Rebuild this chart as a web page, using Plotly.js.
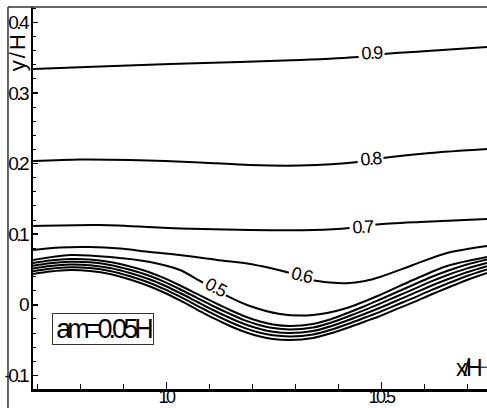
<!DOCTYPE html>
<html>
<head>
<meta charset="utf-8">
<script src="https://cdn.plot.ly/plotly-3.0.1.min.js"></script>
<style>
html,body{margin:0;padding:0;background:#fff;}
#chart{width:487px;height:408px;}
#chart .xtick text, #chart .ytick text { letter-spacing: -2.5px; }
#chart g.annotation text { letter-spacing: -1.6px; }
#chart g.annotation[data-index="5"] text { letter-spacing: -4px; }
#chart g.annotation[data-index="6"] text { letter-spacing: 2px; }
#chart g.annotation[data-index="7"] text { letter-spacing: -4px; }
</style>
</head>
<body>
<div id="chart"></div>
<script>
// Contour levels (u/U) and their lines (x/H, y/H)
const levels = ["0.9", "0.8", "0.7", "0.6", "0.5", "0.4", "0.3", "0.2", "0.1", "0"];

const x09 = [9.691, 9.8465, 10.0093, 10.1721, 10.3116, 10.4465, 10.5047, 10.5907, 10.7465];
const y09 = [0.3340, 0.3375, 0.3411, 0.3439, 0.3467, 0.3510, 0.3552, 0.3588, 0.3652];

const x08 = [9.691, 9.8, 9.9163, 10.0791, 10.1953, 10.3116, 10.4465, 10.5047, 10.614, 10.7465];
const y08 = [0.2037, 0.2058, 0.2051, 0.2016, 0.1980, 0.1973, 0.2023, 0.2079, 0.2150, 0.2207];

const x07 = [9.691, 9.8465, 10.0326, 10.1953, 10.3419, 10.4279, 10.4907, 10.5907, 10.7465];
const y07 = [0.1116, 0.1130, 0.1081, 0.1059, 0.1059, 0.1088, 0.1137, 0.1173, 0.1215];

const x06 = [9.691, 9.7535, 9.8233, 9.893, 9.9628, 10.0326, 10.1186, 10.1884, 10.2419, 10.2884, 10.3395, 10.3814, 10.4209, 10.4628, 10.4977, 10.5744, 10.6535, 10.7465];
const y06 = [0.0776, 0.0812, 0.0819, 0.0797, 0.0748, 0.0705, 0.0635, 0.0585, 0.0521, 0.0450, 0.0351, 0.0316, 0.0305, 0.0337, 0.0394, 0.0564, 0.0734, 0.0833];

const x05 = [9.691, 9.7767, 9.8698, 9.9628, 10.0326, 10.0791, 10.1419, 10.1884, 10.2651, 10.3419, 10.4209, 10.4977, 10.5744, 10.6535, 10.7465];
const y05 = [0.0635, 0.0705, 0.0677, 0.0606, 0.0493, 0.0337, 0.0125, -0.0003, -0.0130, -0.0144, -0.0045, 0.0139, 0.0351, 0.0550, 0.0677];

// near-wall lines share the same x stations
const xWall = [9.6907, 9.7302, 9.7767, 9.8233, 9.8698, 9.9163, 9.9628, 9.9977, 10.0326, 10.0721, 10.1093, 10.1488, 10.1837, 10.2186,
               10.2488, 10.2884, 10.3419, 10.3814, 10.4279, 10.4628, 10.4977, 10.5372, 10.5744, 10.614, 10.6535, 10.7, 10.7465];
const y04 = [0.0592, 0.0627, 0.0649, 0.0642, 0.0606, 0.0542, 0.0458, 0.0373, 0.0273, 0.0153, 0.0040, -0.0074, -0.0166, -0.0237,
             -0.0279, -0.0300, -0.0272, -0.0208, -0.0102, -0.0017, 0.0075, 0.0181, 0.0280, 0.0387, 0.0479, 0.0571, 0.0642];
const y03 = [0.0553, 0.0589, 0.0610, 0.0601, 0.0564, 0.0496, 0.0408, 0.0322, 0.0220, 0.0098, -0.0017, -0.0130, -0.0221, -0.0290,
             -0.0330, -0.0350, -0.0322, -0.0258, -0.0155, -0.0072, 0.0017, 0.0121, 0.0218, 0.0324, 0.0419, 0.0516, 0.0593];
const y02 = [0.0514, 0.0550, 0.0571, 0.0560, 0.0521, 0.0450, 0.0358, 0.0270, 0.0167, 0.0043, -0.0074, -0.0187, -0.0275, -0.0343,
             -0.0382, -0.0399, -0.0371, -0.0307, -0.0208, -0.0127, -0.0042, 0.0061, 0.0157, 0.0263, 0.0358, 0.0461, 0.0546];
const y01 = [0.0475, 0.0511, 0.0532, 0.0520, 0.0479, 0.0404, 0.0309, 0.0218, 0.0114, -0.0011, -0.0130, -0.0244, -0.0330, -0.0396,
             -0.0433, -0.0449, -0.0421, -0.0357, -0.0261, -0.0181, -0.0101, 0.0001, 0.0095, 0.0201, 0.0298, 0.0407, 0.0499];
const y00 = [0.0436, 0.0472, 0.0493, 0.0479, 0.0436, 0.0358, 0.0259, 0.0167, 0.0061, -0.0067, -0.0187, -0.0300, -0.0385, -0.0449,
             -0.0484, -0.0499, -0.0470, -0.0407, -0.0314, -0.0237, -0.0159, -0.0059, 0.0033, 0.0139, 0.0238, 0.0351, 0.0450];

// label positions (x/H, y/H) and the labels shown
const labelText = ["0.9", "0.8", "0.7", "0.6", "0.5"];
const labelX = [10.4779, 10.4744, 10.4581, 10.314, 10.114];
const labelY = [0.3571, 0.2065, 0.1095, 0.0415, 0.0252];
const labelAngle = [-3, -5, -3, 14, 28];

const xTickVals = [10, 10.5];
const xTickText = ["10", "10.5"];
const yTickVals = [-0.1, 0, 0.1, 0.2, 0.3, 0.4];
const yTickText = ["-0.1", "0", "0.1", "0.2", "0.3", "0.4"];

const FONT = "'Liberation Sans', Arial, sans-serif";

const lineSets = [
  [x09, y09], [x08, y08], [x07, y07], [x06, y06], [x05, y05],
  [xWall, y04], [xWall, y03], [xWall, y02], [xWall, y01], [xWall, y00]
];

const traces = lineSets.map((s, i) => ({
  type: 'scatter', mode: 'lines', x: s[0], y: s[1], name: levels[i],
  line: {color: '#000', width: 2, shape: 'spline', smoothing: 0.8},
  hoverinfo: 'skip', showlegend: false
}));

const annotations = labelText.map((t, i) => ({
  x: labelX[i], y: labelY[i], xref: 'x', yref: 'y', text: t, showarrow: false,
  xanchor: 'center', yanchor: 'middle',
  textangle: labelAngle[i], bgcolor: '#fff', borderpad: 0,
  font: {family: FONT, size: 18, color: '#000'}
}));

annotations.push({
  x: 9.8535, y: -0.0343, xref: 'x', yref: 'y', text: 'am=0.05H', showarrow: false,
  xanchor: 'center', yanchor: 'middle', width: 100, height: 30, align: 'center',
  bgcolor: '#fff', bordercolor: '#333', borderwidth: 1, borderpad: 0,
  font: {family: FONT, size: 27, color: '#000'}
});
annotations.push({
  x: -0.035, y: 0.882, xref: 'paper', yref: 'paper', text: 'y/H', showarrow: false,
  xanchor: 'center', yanchor: 'middle',
  textangle: -90, font: {family: FONT, size: 22, color: '#000'}
});
annotations.push({
  x: 0.958, y: 0.055, xref: 'paper', yref: 'paper', text: 'x/H', showarrow: false,
  xanchor: 'center', yanchor: 'middle',
  font: {family: FONT, size: 23, color: '#000'}
});

const layout = {
  width: 487, height: 408,
  margin: {l: 33, r: 0, t: 7, b: 19, pad: 0},
  paper_bgcolor: '#fff', plot_bgcolor: '#fff',
  showlegend: false,
  xaxis: {
    range: [9.6907, 10.7465], showgrid: false, zeroline: false,
    showline: true, linecolor: '#000', linewidth: 2.5, mirror: false,
    tickmode: 'array', tickvals: xTickVals, ticktext: xTickText,
    ticks: 'inside', ticklen: 7, tickwidth: 1, tickcolor: '#000',
    ticklabelstandoff: -10,
    minor: {tickmode: 'linear', tick0: 10, dtick: 0.1, ticks: 'inside', ticklen: 5, tickwidth: 1, tickcolor: '#000'},
    tickfont: {family: FONT, size: 18, color: '#000'}
  },
  yaxis: {
    range: [-0.1193, 0.4218], showgrid: false, zeroline: false,
    showline: true, linecolor: '#000', linewidth: 2, mirror: false,
    tickmode: 'array', tickvals: yTickVals, ticktext: yTickText,
    ticks: 'inside', ticklen: 5, tickwidth: 1.5, tickcolor: '#000',
    minor: {tickmode: 'linear', tick0: 0, dtick: 0.02, ticks: 'inside', ticklen: 3, tickwidth: 1, tickcolor: '#000'},
    tickfont: {family: FONT, size: 19, color: '#000'}
  },
  annotations: annotations,
  shapes: [
    {type: 'line', xref: 'paper', yref: 'paper', x0: -0.0551, x1: -0.0551, y0: 1, y1: -0.06, line: {color: '#333', width: 1.5}},
    {type: 'line', xref: 'paper', yref: 'paper', x0: -0.0551, x1: 1.0, y0: 1, y1: 1, line: {color: '#333', width: 1.5}},
    {type: 'line', xref: 'paper', yref: 'paper', x0: 0.98, x1: 1.0, y0: 0.057, y1: 0.057, line: {color: '#000', width: 1}}
  ]
};

Plotly.newPlot('chart', traces, layout, {displayModeBar: false, staticPlot: true});
</script>
</body>
</html>
